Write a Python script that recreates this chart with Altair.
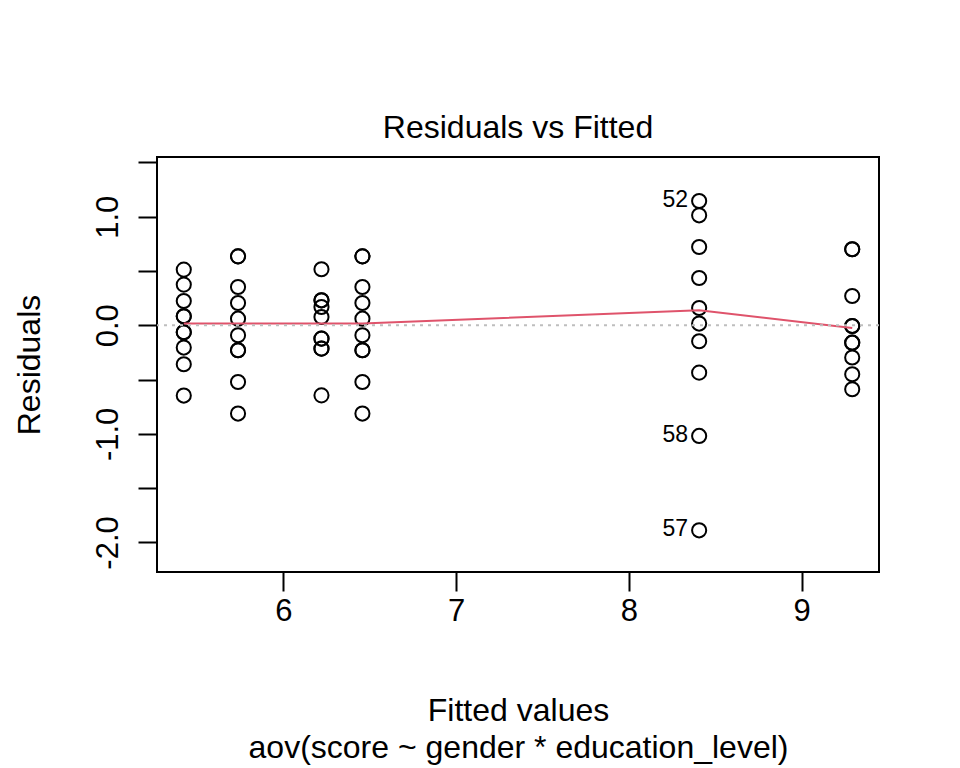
import altair as alt
import pandas as pd

# ---- data ----
fitted_levels = [5.424, 5.738, 6.221, 6.458, 8.407, 9.293]
residuals_by_group = [
    [0.513, 0.375, 0.224, 0.083, 0.083, -0.064, -0.064, -0.205, -0.359, -0.647],
    [0.635, 0.635, 0.353, 0.205, 0.061, -0.092, -0.230, -0.230, -0.522, -0.813],
    [0.516, 0.230, 0.230, 0.169, 0.076, -0.123, -0.123, -0.215, -0.215, -0.645],
    [0.635, 0.635, 0.353, 0.205, 0.061, -0.092, -0.230, -0.230, -0.522, -0.813],
    [1.145, 1.013, 0.721, 0.436, 0.159, 0.016, -0.147, -0.436, -1.019, -1.888],
    [0.700, 0.700, 0.270, -0.006, -0.006, -0.160, -0.160, -0.297, -0.451, -0.589],
]
# labelled observations: (group index, position in group, label)
label_group = [4, 4, 4]
label_pos = [0, 8, 9]
label_text = ["52", "58", "57"]

smooth_residuals = [0.016, 0.016, 0.016, 0.016, 0.138, -0.025]

x_ticks = [6, 7, 8, 9]
y_tick_values = [-2.0, -1.5, -1.0, -0.5, 0.0, 0.5, 1.0, 1.5]
y_tick_labels = ["-2.0", "", "-1.0", "", "0.0", "", "1.0", ""]

title_text = "Residuals vs Fitted"
x_title = ["Fitted values", "aov(score ~ gender * education_level)"]
y_title = "Residuals"

# ---- tables ----
rows = []
for g, (fx, rs) in enumerate(zip(fitted_levels, residuals_by_group)):
    for i, r in enumerate(rs):
        rows.append({"fitted": fx, "resid": r})
points_df = pd.DataFrame(rows)

lab_rows = []
for g, p, t in zip(label_group, label_pos, label_text):
    lab_rows.append({"fitted": fitted_levels[g], "resid": residuals_by_group[g][p], "label": t})
labels_df = pd.DataFrame(lab_rows)

smooth_df = pd.DataFrame({"fitted": fitted_levels, "resid": smooth_residuals})
zero_df = pd.DataFrame({"y": [0.0]})

FONT = "Liberation Sans"

label_expr = " : ".join(
    f"datum.value == {v} ? '{l}'" for v, l in zip(y_tick_values, y_tick_labels)
) + " : ''"

x_scale = alt.Scale(domain=[5.269, 9.448], nice=False, zero=False)
y_scale = alt.Scale(domain=[-2.272, 1.55], nice=False, zero=False)

x_axis = alt.Axis(
    values=x_ticks, format="d", grid=False, domain=False,
    tickSize=19, tickWidth=2, tickColor="black",
    labelFontSize=31, labelFont=FONT, labelColor="black",
    labelPadding=29, labelBaseline="alphabetic", labelFlush=False, labelOverlap=False,
    title=x_title, titleFontSize=32, titleFont=FONT, titleFontWeight="normal",
    titleColor="black", titleX=361, titleY=148, titleBaseline="alphabetic",
    titleAlign="center", titleLineHeight=37,
)
y_axis = alt.Axis(
    values=y_tick_values, labelExpr=label_expr, grid=False, domain=False,
    tickSize=19, tickWidth=2, tickColor="black",
    labelFontSize=31, labelFont=FONT, labelColor="black",
    labelAngle=270, labelAlign="center", labelBaseline="alphabetic",
    labelPadding=21, labelFlush=False, labelOverlap=False, labelBound=False,
    title=y_title, titleFontSize=32, titleFont=FONT, titleFontWeight="normal",
    titleColor="black", titleAngle=270, titleX=-118, titleY=207.5,
    titleBaseline="alphabetic", titleAlign="center",
)

points = alt.Chart(points_df).mark_point(
    shape="circle", filled=False, color="black", size=200, strokeWidth=2, opacity=1
).encode(
    x=alt.X("fitted:Q", scale=x_scale, axis=x_axis),
    y=alt.Y("resid:Q", scale=y_scale, axis=y_axis),
)

smooth = alt.Chart(smooth_df).mark_line(color="#DF536B", strokeWidth=2).encode(
    x=alt.X("fitted:Q", scale=x_scale),
    y=alt.Y("resid:Q", scale=y_scale),
)

zero_line = alt.Chart(zero_df).mark_rule(
    color="#BEBEBE", strokeDash=[3, 5], strokeWidth=2
).encode(y=alt.Y("y:Q", scale=y_scale))

labels = alt.Chart(labels_df).mark_text(
    align="right", baseline="middle", dx=-11, dy=-1, fontSize=23, font=FONT, color="black"
).encode(
    x=alt.X("fitted:Q", scale=x_scale),
    y=alt.Y("resid:Q", scale=y_scale),
    text="label:N",
)

chart = alt.layer(points, smooth, zero_line, labels).properties(
    width=722,
    height=415,
    title=alt.TitleParams(
        title_text, fontSize=32, font=FONT, fontWeight="normal", color="black",
        anchor="middle", offset=20, baseline="alphabetic", frame="group", dy=33,
    ),
    autosize=alt.AutoSizeParams(type="none"),
    padding={"left": 157, "top": 157, "right": 81, "bottom": 196},
    background="white",
).configure_view(stroke="black", strokeWidth=2)

chart.save("out.html", embed_options={"renderer": "svg", "actions": False})
